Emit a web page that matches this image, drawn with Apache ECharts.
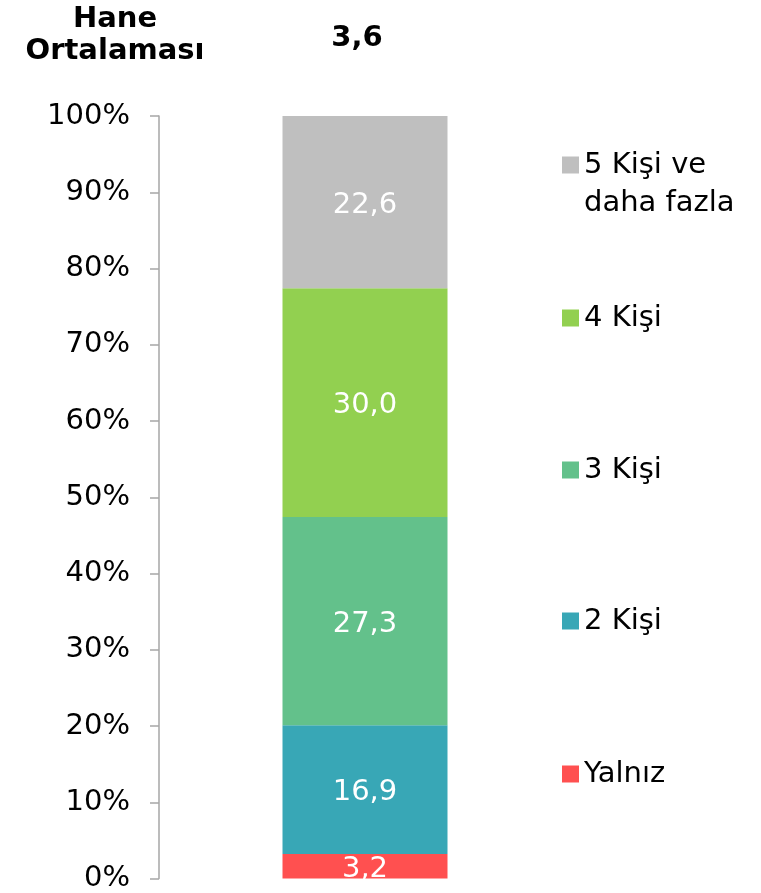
<!DOCTYPE html>
<html>
<head>
<meta charset="utf-8">
<script src="https://cdn.jsdelivr.net/npm/echarts@6/dist/echarts.min.js"></script>
<style>
  html, body { margin: 0; padding: 0; background: #fff; }
  #chart { width: 761px; height: 893px; }
</style>
</head>
<body>
<div id="chart"></div>
<script>
// veriler
const categories = ['']
const seriesNames = ['Yalnız', '2 Kişi', '3 Kişi', '4 Kişi', '5 Kişi ve daha fazla']
const seriesValues = [[3.2], [16.9], [27.3], [30.0], [22.6]]
const seriesColors = ['#ff5050', '#38a7b6', '#63c18b', '#92d050', '#bfbfbf']
const averageLabel = 'Hane\nOrtalaması'
const averageValue = '3,6'
// lejant konumları (ikon merkezi, px)
const legendCenters = [775, 622, 471, 319, 166]

const font = 'DejaVu Sans, Verdana, sans-serif'
const chart = echarts.init(document.getElementById('chart'))

const series = seriesNames.map((name, i) => ({
  name: name,
  type: 'bar',
  stack: 'total',
  barWidth: 165,
  data: seriesValues[i],
  itemStyle: { color: seriesColors[i] },
  label: {
    show: true,
    position: 'inside',
    offset: [0, 3],
    color: '#fff',
    fontSize: 29,
    fontFamily: font,
    formatter: p => p.value.toFixed(1).replace('.', ',')
  }
}))

// her seri için ayrı lejant (uzun ad iki satır: ikinci satır ayrı metin)
const legends = seriesNames.map((name, i) => ({
  data: [name],
  orient: 'vertical',
  left: 562,
  top: legendCenters[i] - 19,
  padding: 0,
  itemWidth: 17,
  itemHeight: 17,
  itemGap: 0,
  icon: 'rect',
  selectedMode: false,
  formatter: n => n.replace(' daha fazla', ''),
  textStyle: {
    fontSize: 29,
    fontFamily: font,
    color: '#000',
    lineHeight: 36
  }
}))

const option = {
  animation: false,
  backgroundColor: '#fff',
  grid: { left: 159, top: 116, width: 412, bottom: 13 },
  legend: legends,
  xAxis: {
    type: 'category',
    data: categories,
    show: false
  },
  yAxis: {
    type: 'value',
    min: 0,
    max: 100,
    interval: 10,
    splitLine: { show: false },
    axisLine: { show: true, lineStyle: { color: '#a6a6a6', width: 1.5 } },
    axisTick: { show: true, length: 9, lineStyle: { color: '#a6a6a6', width: 1.5 } },
    axisLabel: {
      formatter: '{value}%',
      fontSize: 29,
      fontFamily: font,
      color: '#000',
      margin: 29,
      padding: [4, 0, 0, 0]
    }
  },
  graphic: [
    {
      type: 'text',
      x: 115,
      y: 35,
      style: {
        text: averageLabel,
        font: 'bold 29px ' + font,
        fill: '#000',
        align: 'center',
        verticalAlign: 'middle',
        lineHeight: 32
      }
    },
    {
      type: 'text',
      x: 357,
      y: 38,
      style: {
        text: averageValue,
        font: 'bold 29px ' + font,
        fill: '#000',
        align: 'center',
        verticalAlign: 'middle'
      }
    },
    {
      // "5 Kişi ve daha fazla" lejantının ikinci satırı
      type: 'text',
      x: 584,
      y: 203,
      style: {
        text: 'daha fazla',
        font: '29px ' + font,
        fill: '#000',
        align: 'left',
        verticalAlign: 'middle'
      }
    }
  ],
  series: series
}

chart.setOption(option)
</script>
</body>
</html>
